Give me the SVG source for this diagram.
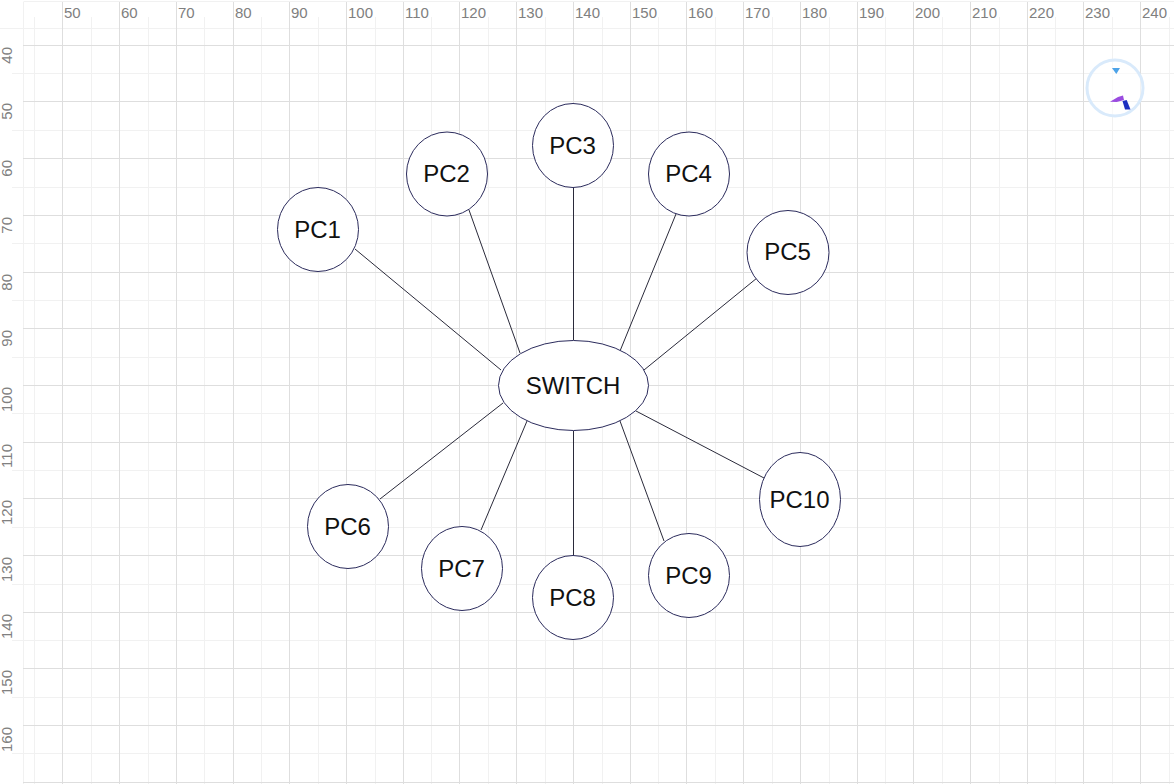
<svg xmlns="http://www.w3.org/2000/svg" width="1174" height="784" viewBox="0 0 1174 784">
<style>
.maj{stroke:#dedede;stroke-width:1;fill:none}
.min{stroke:#f1f1f1;stroke-width:1;fill:none}
.ax{font-family:"Liberation Sans",Arial,sans-serif;font-size:15px;fill:#808080}
.n{fill:#ffffff;stroke:#2b2b5c;stroke-width:1}
.c{stroke:#2a2a3a;stroke-width:1;fill:none}
.t{font-family:"Liberation Sans",Arial,sans-serif;font-size:24px;fill:#111111;text-anchor:middle}
</style>
<defs><filter id="soft" x="-30%" y="-30%" width="160%" height="160%"><feGaussianBlur stdDeviation="0.5"/></filter></defs>
<rect width="1174" height="784" fill="#ffffff"/>
<g id="grid-minor">
<path class="min" d="M23.5 1.5H1174M0 28.5H1174M23.5 2V784"/>
<path class="min" d="M34.5 17V784M91.5 17V784M148.5 17V784M204.5 17V784M261.5 17V784M318.5 17V784M375.5 17V784M431.5 17V784M488.5 17V784M545.5 17V784M602.5 17V784M658.5 17V784M715.5 17V784M772.5 17V784M829.5 17V784M885.5 17V784M942.5 17V784M999.5 17V784M1055.5 17V784M1112.5 17V784M1169.5 17V784"/>
<path class="min" d="M12 73.5H1174M12 130.5H1174M12 187.5H1174M12 243.5H1174M12 300.5H1174M12 357.5H1174M12 413.5H1174M12 470.5H1174M12 527.5H1174M12 584.5H1174M12 640.5H1174M12 697.5H1174M12 753.5H1174"/>
</g>
<g id="grid-major">
<path class="maj" d="M62.5 2V784M119.5 2V784M176.5 2V784M233.5 2V784M289.5 2V784M346.5 2V784M403.5 2V784M459.5 2V784M516.5 2V784M573.5 2V784M630.5 2V784M686.5 2V784M743.5 2V784M800.5 2V784M857.5 2V784M913.5 2V784M970.5 2V784M1027.5 2V784M1083.5 2V784M1140.5 2V784"/>
<path class="maj" d="M23 45.5H1174M23 101.5H1174M23 158.5H1174M23 215.5H1174M23 272.5H1174M23 328.5H1174M23 385.5H1174M23 442.5H1174M23 498.5H1174M23 555.5H1174M23 612.5H1174M23 668.5H1174M23 725.5H1174M23 782.5H1174"/>
</g>
<g id="axis-x" class="ax">
<text x="64" y="18">50</text><text x="121" y="18">60</text><text x="178" y="18">70</text><text x="235" y="18">80</text><text x="291" y="18">90</text><text x="348" y="18">100</text><text x="405" y="18">110</text><text x="461" y="18">120</text><text x="518" y="18">130</text><text x="575" y="18">140</text><text x="632" y="18">150</text><text x="688" y="18">160</text><text x="745" y="18">170</text><text x="802" y="18">180</text><text x="859" y="18">190</text><text x="915" y="18">200</text><text x="972" y="18">210</text><text x="1029" y="18">220</text><text x="1085" y="18">230</text><text x="1142" y="18">240</text>
</g>
<g id="axis-y" class="ax" text-anchor="end">
<text transform="translate(12 47) rotate(-90)">40</text><text transform="translate(12 103) rotate(-90)">50</text><text transform="translate(12 160) rotate(-90)">60</text><text transform="translate(12 217) rotate(-90)">70</text><text transform="translate(12 274) rotate(-90)">80</text><text transform="translate(12 330) rotate(-90)">90</text><text transform="translate(12 387) rotate(-90)">100</text><text transform="translate(12 444) rotate(-90)">110</text><text transform="translate(12 500) rotate(-90)">120</text><text transform="translate(12 557) rotate(-90)">130</text><text transform="translate(12 614) rotate(-90)">140</text><text transform="translate(12 670) rotate(-90)">150</text><text transform="translate(12 727) rotate(-90)">160</text>
</g>
<g id="connectors">
<line class="c" x1="355" y1="249" x2="501" y2="370"/>
<line class="c" x1="469" y1="210" x2="520" y2="353"/>
<line class="c" x1="573.5" y1="187" x2="573.5" y2="340"/>
<line class="c" x1="676" y1="214" x2="620" y2="351"/>
<line class="c" x1="757" y1="278" x2="644" y2="370"/>
<line class="c" x1="380" y1="499" x2="503" y2="403"/>
<line class="c" x1="481" y1="530" x2="527" y2="421"/>
<line class="c" x1="573.5" y1="555" x2="573.5" y2="431"/>
<line class="c" x1="664" y1="541" x2="620" y2="421"/>
<line class="c" x1="764" y1="478" x2="636" y2="411"/>
</g>
<g id="switch"><ellipse class="n" cx="573.5" cy="385.5" rx="75" ry="45"/><text class="t" x="573" y="394">SWITCH</text></g>
<g id="pc1"><ellipse class="n" cx="318" cy="229.5" rx="40.5" ry="42"/><text class="t" x="317.5" y="238">PC1</text></g>
<g id="pc2"><ellipse class="n" cx="447" cy="174" rx="40.5" ry="42"/><text class="t" x="446.5" y="182">PC2</text></g>
<g id="pc3"><ellipse class="n" cx="573" cy="145.5" rx="40.5" ry="42"/><text class="t" x="572.5" y="154">PC3</text></g>
<g id="pc4"><ellipse class="n" cx="689" cy="174" rx="40.5" ry="42"/><text class="t" x="688.5" y="182">PC4</text></g>
<g id="pc5"><ellipse class="n" cx="788" cy="252.5" rx="41" ry="42"/><text class="t" x="787.5" y="260">PC5</text></g>
<g id="pc6"><ellipse class="n" cx="348" cy="526.5" rx="40.5" ry="42"/><text class="t" x="347.5" y="535">PC6</text></g>
<g id="pc7"><ellipse class="n" cx="462" cy="568.5" rx="40.5" ry="42"/><text class="t" x="461.5" y="577">PC7</text></g>
<g id="pc8"><ellipse class="n" cx="573" cy="597.5" rx="40.5" ry="42"/><text class="t" x="572.5" y="605.5">PC8</text></g>
<g id="pc9"><ellipse class="n" cx="689" cy="575.5" rx="40.5" ry="42"/><text class="t" x="688.5" y="584">PC9</text></g>
<g id="pc10"><ellipse class="n" cx="800" cy="499.5" rx="40.5" ry="47"/><text class="t" x="799.5" y="508">PC10</text></g>
<g id="icon">
<circle cx="1115" cy="88" r="28" fill="#ffffff" fill-opacity="0.6" stroke="#d9eafb" stroke-width="3"/>
<polygon filter="url(#soft)" points="1112,68 1120,68 1116.3,74" fill="#4da3e8"/>
<polygon filter="url(#soft)" points="1110,101.7 1118,97 1123,95.5 1124,100 1116.7,102" fill="#9a4be0"/>
<polygon filter="url(#soft)" points="1122.5,101 1126.7,100 1130.5,109.5 1125,109.5" fill="#1f2fc0"/>
</g>
</svg>
